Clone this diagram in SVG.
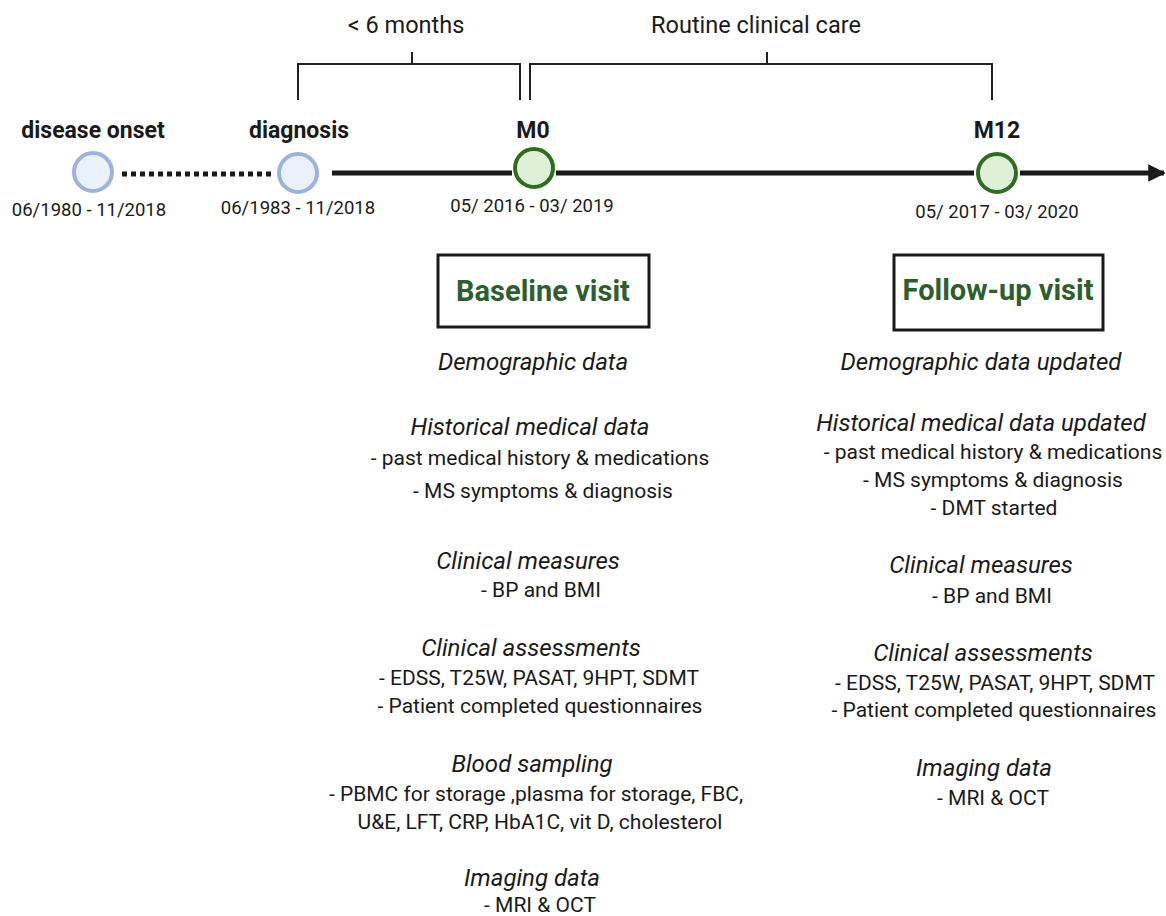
<svg xmlns="http://www.w3.org/2000/svg" width="1166" height="916" viewBox="0 0 1166 916">
<defs>
<style>
text{font-family:Roboto,"Liberation Sans",sans-serif;fill:#1a1a1a;text-anchor:middle}
.top{font-size:23.5px}
.lbl{font-size:23px;font-weight:bold}
.date{font-size:18.5px}
.ttl{font-size:29px;font-weight:bold;fill:#2e5e2e}
.h{font-size:24px;font-style:italic}
.b{font-size:21px}
.br{fill:none;stroke:#222;stroke-width:2}
.line{stroke:#1a1a1a;stroke-width:5;fill:none}
.blue{fill:#eaf1fb;stroke:#9db3dd;stroke-width:4}
.green{fill:#dff0d8;stroke:#2f6e1f;stroke-width:4}
.box{fill:#fff;stroke:#1a1a1a;stroke-width:3}
</style>
<marker id="ah" viewBox="0 0 10 10" refX="9" refY="5" markerWidth="3.5" markerHeight="3.5" orient="auto" markerUnits="strokeWidth"><path d="M0,0 L10,5 L0,10 z" fill="#1a1a1a"/></marker>
</defs>
<rect width="1166" height="916" fill="#fff"/>
<g id="brackets">
<text class="top" x="406" y="33">&lt; 6 months</text>
<path class="br" d="M298,100 V64 H520 V100 M412,52 V64"/>
<text class="top" x="756" y="33">Routine clinical care</text>
<path class="br" d="M530,100 V64 H992 V100 M767,52 V64"/>
</g>
<g id="connectors">
<line class="line" x1="122" y1="174" x2="275" y2="174" stroke-dasharray="5 4"/>
<line class="line" x1="332" y1="173" x2="512" y2="173"/>
<line class="line" x1="556" y1="173" x2="974" y2="173"/>
<line class="line" x1="1020" y1="173" x2="1164" y2="173" marker-end="url(#ah)"/>
</g>
<g id="onset">
<text class="lbl" x="93" y="138">disease onset</text>
<circle class="blue" cx="93" cy="172" r="19"/>
<text class="date" x="89" y="216">06/1980 - 11/2018</text>
</g>
<g id="diagnosis">
<text class="lbl" x="299" y="138">diagnosis</text>
<circle class="blue" cx="298" cy="173" r="19"/>
<text class="date" x="298" y="214">06/1983 - 11/2018</text>
</g>
<g id="m0">
<text class="lbl" x="533" y="138">M0</text>
<circle class="green" cx="534" cy="168" r="19"/>
<text class="date" x="532" y="212">05/ 2016 - 03/ 2019</text>
</g>
<g id="m12">
<text class="lbl" x="997" y="138">M12</text>
<circle class="green" cx="997" cy="173" r="19"/>
<text class="date" x="997" y="218">05/ 2017 - 03/ 2020</text>
</g>
<g id="baseline">
<rect class="box" x="438" y="255" width="211" height="72"/>
<text class="ttl" x="543" y="301">Baseline visit</text>
<text class="h" x="533" y="370">Demographic data</text>
<text class="h" x="530" y="435">Historical medical data</text>
<text class="b" x="540" y="465">- past medical history &amp; medications</text>
<text class="b" x="543" y="498">- MS symptoms &amp; diagnosis</text>
<text class="h" x="528" y="569">Clinical measures</text>
<text class="b" x="541" y="597">- BP and BMI</text>
<text class="h" x="531" y="656">Clinical assessments</text>
<text class="b" x="539" y="685">- EDSS, T25W, PASAT, 9HPT, SDMT</text>
<text class="b" x="540" y="713">- Patient completed questionnaires</text>
<text class="h" x="532" y="772">Blood sampling</text>
<text class="b" x="536" y="801">- PBMC for storage ,plasma for storage, FBC,</text>
<text class="b" x="540" y="829">U&amp;E, LFT, CRP, HbA1C, vit D, cholesterol</text>
<text class="h" x="532" y="886">Imaging data</text>
<text class="b" x="540" y="912">- MRI &amp; OCT</text>
</g>
<g id="followup">
<rect class="box" x="894" y="255" width="209" height="75"/>
<text class="ttl" x="998" y="300">Follow-up visit</text>
<text class="h" x="981" y="370">Demographic data updated</text>
<text class="h" x="981" y="431">Historical medical data updated</text>
<text class="b" x="993" y="459">- past medical history &amp; medications</text>
<text class="b" x="993" y="487">- MS symptoms &amp; diagnosis</text>
<text class="b" x="994" y="515">- DMT started</text>
<text class="h" x="981" y="573">Clinical measures</text>
<text class="b" x="992" y="603">- BP and BMI</text>
<text class="h" x="983" y="661">Clinical assessments</text>
<text class="b" x="995" y="690">- EDSS, T25W, PASAT, 9HPT, SDMT</text>
<text class="b" x="994" y="717">- Patient completed questionnaires</text>
<text class="h" x="984" y="776">Imaging data</text>
<text class="b" x="993" y="805">- MRI &amp; OCT</text>
</g>
</svg>
